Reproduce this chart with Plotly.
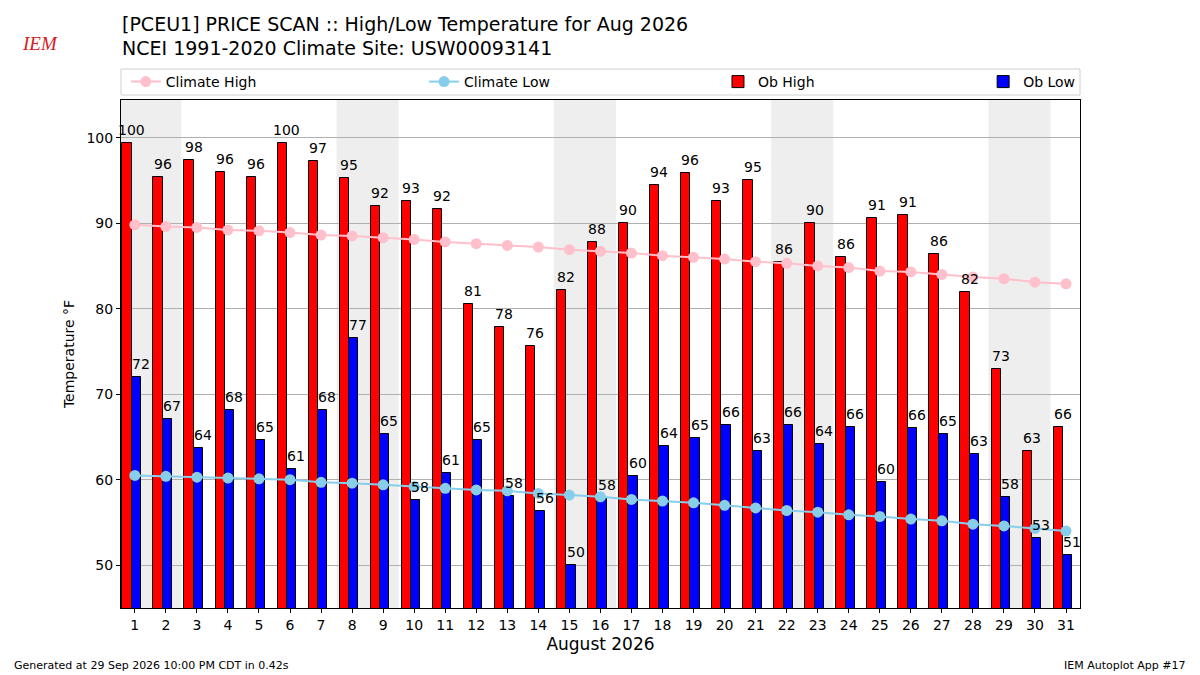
import plotly.graph_objects as go

# August 2026 daily data
days = list(range(1, 32))
ob_high = [99.4, 95.4, 97.4, 96.0, 95.4, 99.4, 97.3, 95.3, 92.0, 92.6,
           91.6, 80.6, 77.9, 75.6, 82.2, 87.8, 90.0, 94.5, 95.9, 92.6,
           95.0, 85.4, 90.0, 86.0, 90.6, 90.9, 86.4, 82.0, 73.0, 63.3, 66.2]
ob_low = [72.0, 67.1, 63.7, 68.1, 64.6, 61.2, 68.1, 76.6, 65.3, 57.6,
          60.8, 64.7, 58.1, 56.3, 50.0, 57.9, 60.4, 63.9, 64.9, 66.4,
          63.3, 66.4, 64.2, 66.2, 59.7, 66.0, 65.3, 63.0, 58.0, 53.2, 51.2]
high_labels = ["100", "96", "98", "96", "96", "100", "97", "95", "92", "93",
               "92", "81", "78", "76", "82", "88", "90", "94", "96", "93",
               "95", "86", "90", "86", "91", "91", "86", "82", "73", "63", "66"]
low_labels = ["72", "67", "64", "68", "65", "61", "68", "77", "65", "58",
              "61", "65", "58", "56", "50", "58", "60", "64", "65", "66",
              "63", "66", "64", "66", "60", "66", "65", "63", "58", "53", "51"]
climate_high = [89.8, 89.6, 89.5, 89.2, 89.1, 88.9, 88.6, 88.5, 88.3, 88.1,
                87.8, 87.6, 87.4, 87.2, 86.9, 86.7, 86.5, 86.2, 86.0, 85.8,
                85.5, 85.3, 85.0, 84.8, 84.4, 84.3, 84.0, 83.7, 83.5, 83.1, 82.9]
climate_low = [60.5, 60.4, 60.3, 60.2, 60.1, 60.0, 59.7, 59.6, 59.4, 59.2,
               59.0, 58.8, 58.7, 58.4, 58.2, 58.0, 57.7, 57.5, 57.3, 57.0,
               56.7, 56.4, 56.2, 55.9, 55.7, 55.4, 55.2, 54.8, 54.6, 54.3, 54.0]
weekend_starts = [1, 8, 15, 22, 29]  # Saturdays
y_ticks = [50, 60, 70, 80, 90, 100]

FONT = "DejaVu Sans"
BAR_W = 0.3
hi_x = [d - 0.25 for d in days]
lo_x = [d + 0.05 for d in days]

fig = go.Figure()

fig.add_trace(go.Bar(
    x=hi_x, y=ob_high, width=BAR_W, name="Ob High",
    marker=dict(color="#ff0000", line=dict(color="black", width=1)),
    legend="legend3",
))
fig.add_trace(go.Bar(
    x=lo_x, y=ob_low, width=BAR_W, name="Ob Low",
    marker=dict(color="#0000ff", line=dict(color="black", width=1)),
    legend="legend4",
))
fig.add_trace(go.Scatter(
    x=days, y=climate_high, mode="lines+markers", name="Climate High",
    line=dict(color="#ffc0cb", width=2), marker=dict(size=11, color="#ffc0cb"),
    legend="legend",
))
fig.add_trace(go.Scatter(
    x=days, y=climate_low, mode="lines+markers", name="Climate Low",
    line=dict(color="#87ceeb", width=2), marker=dict(size=11, color="#87ceeb"),
    legend="legend2",
))

# value labels centred on the right edge of each bar
for xs, vals, labels in ((hi_x, ob_high, high_labels), (lo_x, ob_low, low_labels)):
    for x, v, t in zip(xs, vals, labels):
        fig.add_annotation(x=x + BAR_W / 2, y=v, text=t, showarrow=False,
                           xanchor="center", yanchor="bottom", yshift=3,
                           font=dict(family=FONT, size=14, color="black"))

for d in weekend_starts:
    fig.add_shape(type="rect", xref="x", yref="paper", x0=d - 0.5, x1=d + 1.5,
                  y0=0, y1=1, fillcolor="#eeeeee", line_width=0, layer="below")

# legend frame
fig.add_shape(type="rect", xref="paper", yref="paper", x0=0.0, x1=1.0,
              y0=(608 - 95) / 508, y1=(608 - 69) / 508,
              line=dict(color="#d0d0d0", width=1), fillcolor="white", layer="below")

leg = dict(orientation="h", yanchor="middle", y=(608 - 82) / 508, xanchor="left",
           bgcolor="rgba(0,0,0,0)", font=dict(family=FONT, size=14, color="black"))

# page body adds an 8px offset, so margins are shifted to keep the plot in place
fig.update_layout(
    width=1200, height=675,
    margin=dict(l=113, r=128, t=92, b=75),
    paper_bgcolor="white", plot_bgcolor="white",
    barmode="overlay", bargap=0,
    font=dict(family=FONT, size=14, color="black"),
    showlegend=True,
    legend=dict(leg, x=0.005),
    legend2=dict(leg, x=0.316),
    legend3=dict(leg, x=0.6225),
    legend4=dict(leg, x=0.899),
    xaxis=dict(
        range=[0.555, 31.45], tickmode="array", tickvals=days,
        ticks="outside", ticklen=4, tickcolor="black", showgrid=False,
        showline=True, linecolor="black", linewidth=1, mirror=True,
        tickfont=dict(size=14), zeroline=False,
        title=dict(text="August 2026", font=dict(size=17), standoff=6),
    ),
    yaxis=dict(
        range=[45, 104.4], tickmode="array", tickvals=y_ticks,
        ticks="outside", ticklen=4, tickcolor="black",
        showgrid=True, gridcolor="#b0b0b0", gridwidth=1,
        showline=True, linecolor="black", linewidth=1, mirror=True,
        tickfont=dict(size=14), zeroline=False,
        title=dict(text="Temperature °F", font=dict(size=14), standoff=8),
    ),
)

fig.add_annotation(text="[PCEU1] PRICE SCAN :: High/Low Temperature for Aug 2026",
                   xref="paper", yref="paper", x=-0.001, y=(608 - 24) / 508,
                   xanchor="left", yanchor="middle", showarrow=False,
                   font=dict(family=FONT, size=19))
fig.add_annotation(text="NCEI 1991-2020 Climate Site: USW00093141",
                   xref="paper", yref="paper", x=-0.001, y=(608 - 48) / 508,
                   xanchor="left", yanchor="middle", showarrow=False,
                   font=dict(family=FONT, size=19))
fig.add_annotation(text="<i>IEM</i>", xref="paper", yref="paper",
                   x=(20 - 121) / 959, y=(608 - 44) / 508, xanchor="left",
                   yanchor="middle", showarrow=False,
                   font=dict(family="Liberation Serif", size=19, color="#d42020"))
fig.add_annotation(text="Generated at 29 Sep 2026 10:00 PM CDT in 0.42s",
                   xref="paper", yref="paper", x=(12 - 121) / 959, y=(608 - 665) / 508,
                   xanchor="left", yanchor="middle", showarrow=False,
                   font=dict(family=FONT, size=11))
fig.add_annotation(text="IEM Autoplot App #17",
                   xref="paper", yref="paper", x=(1188 - 121) / 959, y=(608 - 665) / 508,
                   xanchor="right", yanchor="middle", showarrow=False,
                   font=dict(family=FONT, size=11))

fig.write_html("out.html")
